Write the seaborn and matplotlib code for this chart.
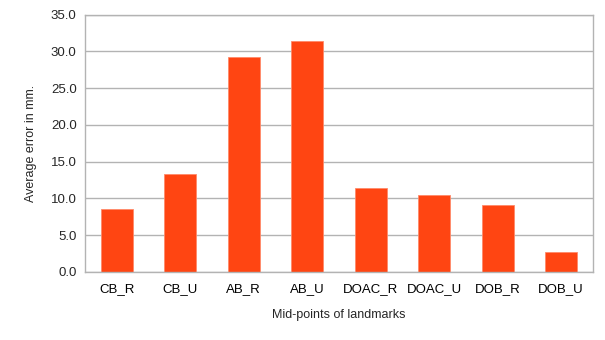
import matplotlib
matplotlib.use("Agg")
import matplotlib.pyplot as plt
import numpy as np
import pandas as pd
import seaborn as sns

categories = ["CB_R", "CB_U", "AB_R", "AB_U", "DOAC_R", "DOAC_U", "DOB_R", "DOB_U"]
avg_error = [8.6, 13.3, 29.3, 31.4, 11.4, 10.5, 9.1, 2.7]
y_ticks = [0, 5, 10, 15, 20, 25, 30, 35]

df = pd.DataFrame({"landmark": categories, "error": avg_error})

sns.set_style("white")
plt.rcParams["font.family"] = ["Liberation Sans", "DejaVu Sans"]

grid_col = "#b3b3b3"

fig = plt.figure(figsize=(6.05, 3.4), dpi=100)
ax = fig.add_axes([0.1405, 0.2, 0.8395, 0.757])

sns.barplot(
    data=df,
    x="landmark",
    y="error",
    color="#ff4512",
    saturation=1,
    width=0.5,
    edgecolor="#ff8a6a",
    linewidth=0.6,
    ax=ax
)

ax.set_xlim(-0.5, len(categories) - 0.5)
ax.set_ylim(0, 35)
ax.set_yticks(y_ticks)
ax.set_yticklabels([f"{v:.1f}" for v in y_ticks])
ax.yaxis.grid(True, color=grid_col, linewidth=1)
ax.set_axisbelow(True)

# tick marks sit between categories
ax.set_xticks(np.arange(-0.5, len(categories), 1.0), minor=True)
ax.tick_params(axis="x", which="major", length=0, pad=8, labelsize=9.5, colors="black")
ax.tick_params(axis="x", which="minor", length=4, width=1, color=grid_col, direction="out")
ax.tick_params(axis="y", which="major", length=4, width=1, color=grid_col, labelsize=9.5, pad=2)

for s in ax.spines.values():
    s.set_color(grid_col)
    s.set_linewidth(1)

ax.set_xlabel("Mid-points of landmarks", fontsize=9, labelpad=10)
ax.set_ylabel("Average error in mm.", fontsize=9, labelpad=10)

fig.savefig("out.png", dpi=100)
plt.close()
